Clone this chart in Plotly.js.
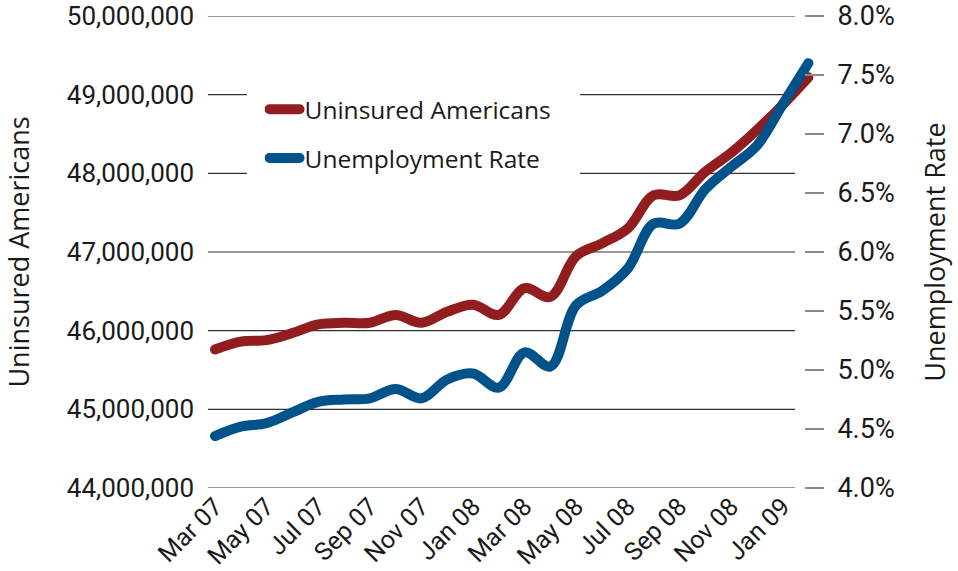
<!DOCTYPE html>
<html>
<head>
<meta charset="utf-8">
<script src="https://cdn.plot.ly/plotly-3.0.1.min.js"></script>
<style>
html,body{margin:0;padding:0;background:#fff;}
#chart{width:958px;height:571px;}
.scatterlayer path.js-line{stroke-linecap:round;stroke-linejoin:round;}
.legendlines path{stroke-linecap:round;}
</style>
</head>
<body>
<div id="chart"></div>
<script>
// Monthly categories (Mar 07 .. Feb 09)
const months = ["Mar 07","Apr 07","May 07","Jun 07","Jul 07","Aug 07","Sep 07","Oct 07","Nov 07","Dec 07",
                "Jan 08","Feb 08","Mar 08","Apr 08","May 08","Jun 08","Jul 08","Aug 08","Sep 08","Oct 08",
                "Nov 08","Dec 08","Jan 09","Feb 09"];
// Uninsured Americans (left axis)
const uninsured = [45760000,45860000,45880000,45970000,46080000,46100000,46100000,46200000,46100000,46240000,
                   46330000,46200000,46540000,46430000,46950000,47110000,47300000,47720000,47720000,48020000,
                   48260000,48550000,48870000,49220000];
// Unemployment rate, % (right axis)
const unemployment = [4.44,4.52,4.55,4.64,4.73,4.75,4.76,4.84,4.76,4.92,
                      4.97,4.85,5.15,5.03,5.55,5.67,5.86,6.24,6.24,6.53,
                      6.72,6.90,7.25,7.60];
// Axis ticks
const xTickLabels = ["Mar 07","May 07","Jul 07","Sep 07","Nov 07","Jan 08","Mar 08","May 08","Jul 08","Sep 08","Nov 08","Jan 09"];
const leftTicks = [44000000,45000000,46000000,47000000,48000000,49000000,50000000];
const rightTicks = [4.0,4.5,5.0,5.5,6.0,6.5,7.0,7.5,8.0];

const FONT = "Open Sans, Noto Sans, sans-serif";
const TICKFONT = "Roboto, Open Sans, sans-serif";
const TXT = "#1a1a1a";
const RED = "#921d1f";
const BLUE = "#00538a";

const traces = [
  {x: months, y: uninsured, type: "scatter", mode: "lines", name: "Uninsured Americans",
   line: {color: RED, width: 10, shape: "spline", smoothing: 1}, yaxis: "y", legendgroup: "a", hoverinfo: "skip"},
  {x: months, y: unemployment, type: "scatter", mode: "lines", name: "Unemployment Rate",
   line: {color: BLUE, width: 10, shape: "spline", smoothing: 1}, yaxis: "y2", legendgroup: "b", hoverinfo: "skip"}
];

const gridShapes = leftTicks.map(v => ({
  type: "line", xref: "paper", yref: "y", x0: 0, x1: 0.9655, y0: v, y1: v,
  line: {color: "#333", width: 1.2}, layer: "below"
}));
gridShapes.push({type: "rect", xref: "paper", yref: "paper", x0: 0.064, x1: 0.612, y0: 0.631, y1: 0.86,
  fillcolor: "#fff", line: {width: 0}, layer: "below"});

const layout = {
  width: 958, height: 571,
  margin: {l: 208, r: 142, t: 16, b: 83},
  paper_bgcolor: "#fff", plot_bgcolor: "rgba(0,0,0,0)",
  font: {family: FONT, color: TXT, size: 25},
  showlegend: true,
  legend: {x: 0.093, y: 0.85, xanchor: "left", yanchor: "top", bgcolor: "rgba(0,0,0,0)",
           font: {family: FONT, size: 24.5, color: TXT}, tracegroupgap: 14, traceorder: "grouped"},
  xaxis: {type: "category", range: [-0.271, 23.295], tickvals: xTickLabels, ticktext: xTickLabels,
          tickangle: -45, ticks: "", showgrid: false, zeroline: false, showline: false,
          ticklabeloverflow: "allow", ticklabelstandoff: -2,
          tickfont: {family: TICKFONT, size: 25, color: TXT}, automargin: false, fixedrange: true},
  yaxis: {range: [44000000, 50000000], tickvals: leftTicks,
          ticktext: leftTicks.map(v => v.toLocaleString("en-US")),
          ticks: "", showgrid: false, zeroline: false, showline: false, ticklabelstandoff: 13,
          ticklabeloverflow: "allow",
          tickfont: {family: TICKFONT, size: 26, color: TXT}, automargin: false,
          title: {text: "Uninsured Americans", font: {family: FONT, size: 27, color: TXT}, standoff: 31}},
  yaxis2: {range: [4, 8], overlaying: "y", side: "right", anchor: "free", position: 0.9803,
           tickvals: rightTicks, ticktext: rightTicks.map(v => v.toFixed(1) + "%"),
           ticks: "outside", ticklen: 19, tickwidth: 1.5, tickcolor: "#888",
           showgrid: false, zeroline: false, showline: false, ticklabelstandoff: 8,
           ticklabeloverflow: "allow",
           tickfont: {family: TICKFONT, size: 27, color: TXT}, automargin: false,
           title: {text: "Unemployment Rate", font: {family: FONT, size: 27, color: TXT}, standoff: 32}},
  shapes: gridShapes
};

Plotly.newPlot("chart", traces, layout, {displayModeBar: false, staticPlot: true});
</script>
</body>
</html>
